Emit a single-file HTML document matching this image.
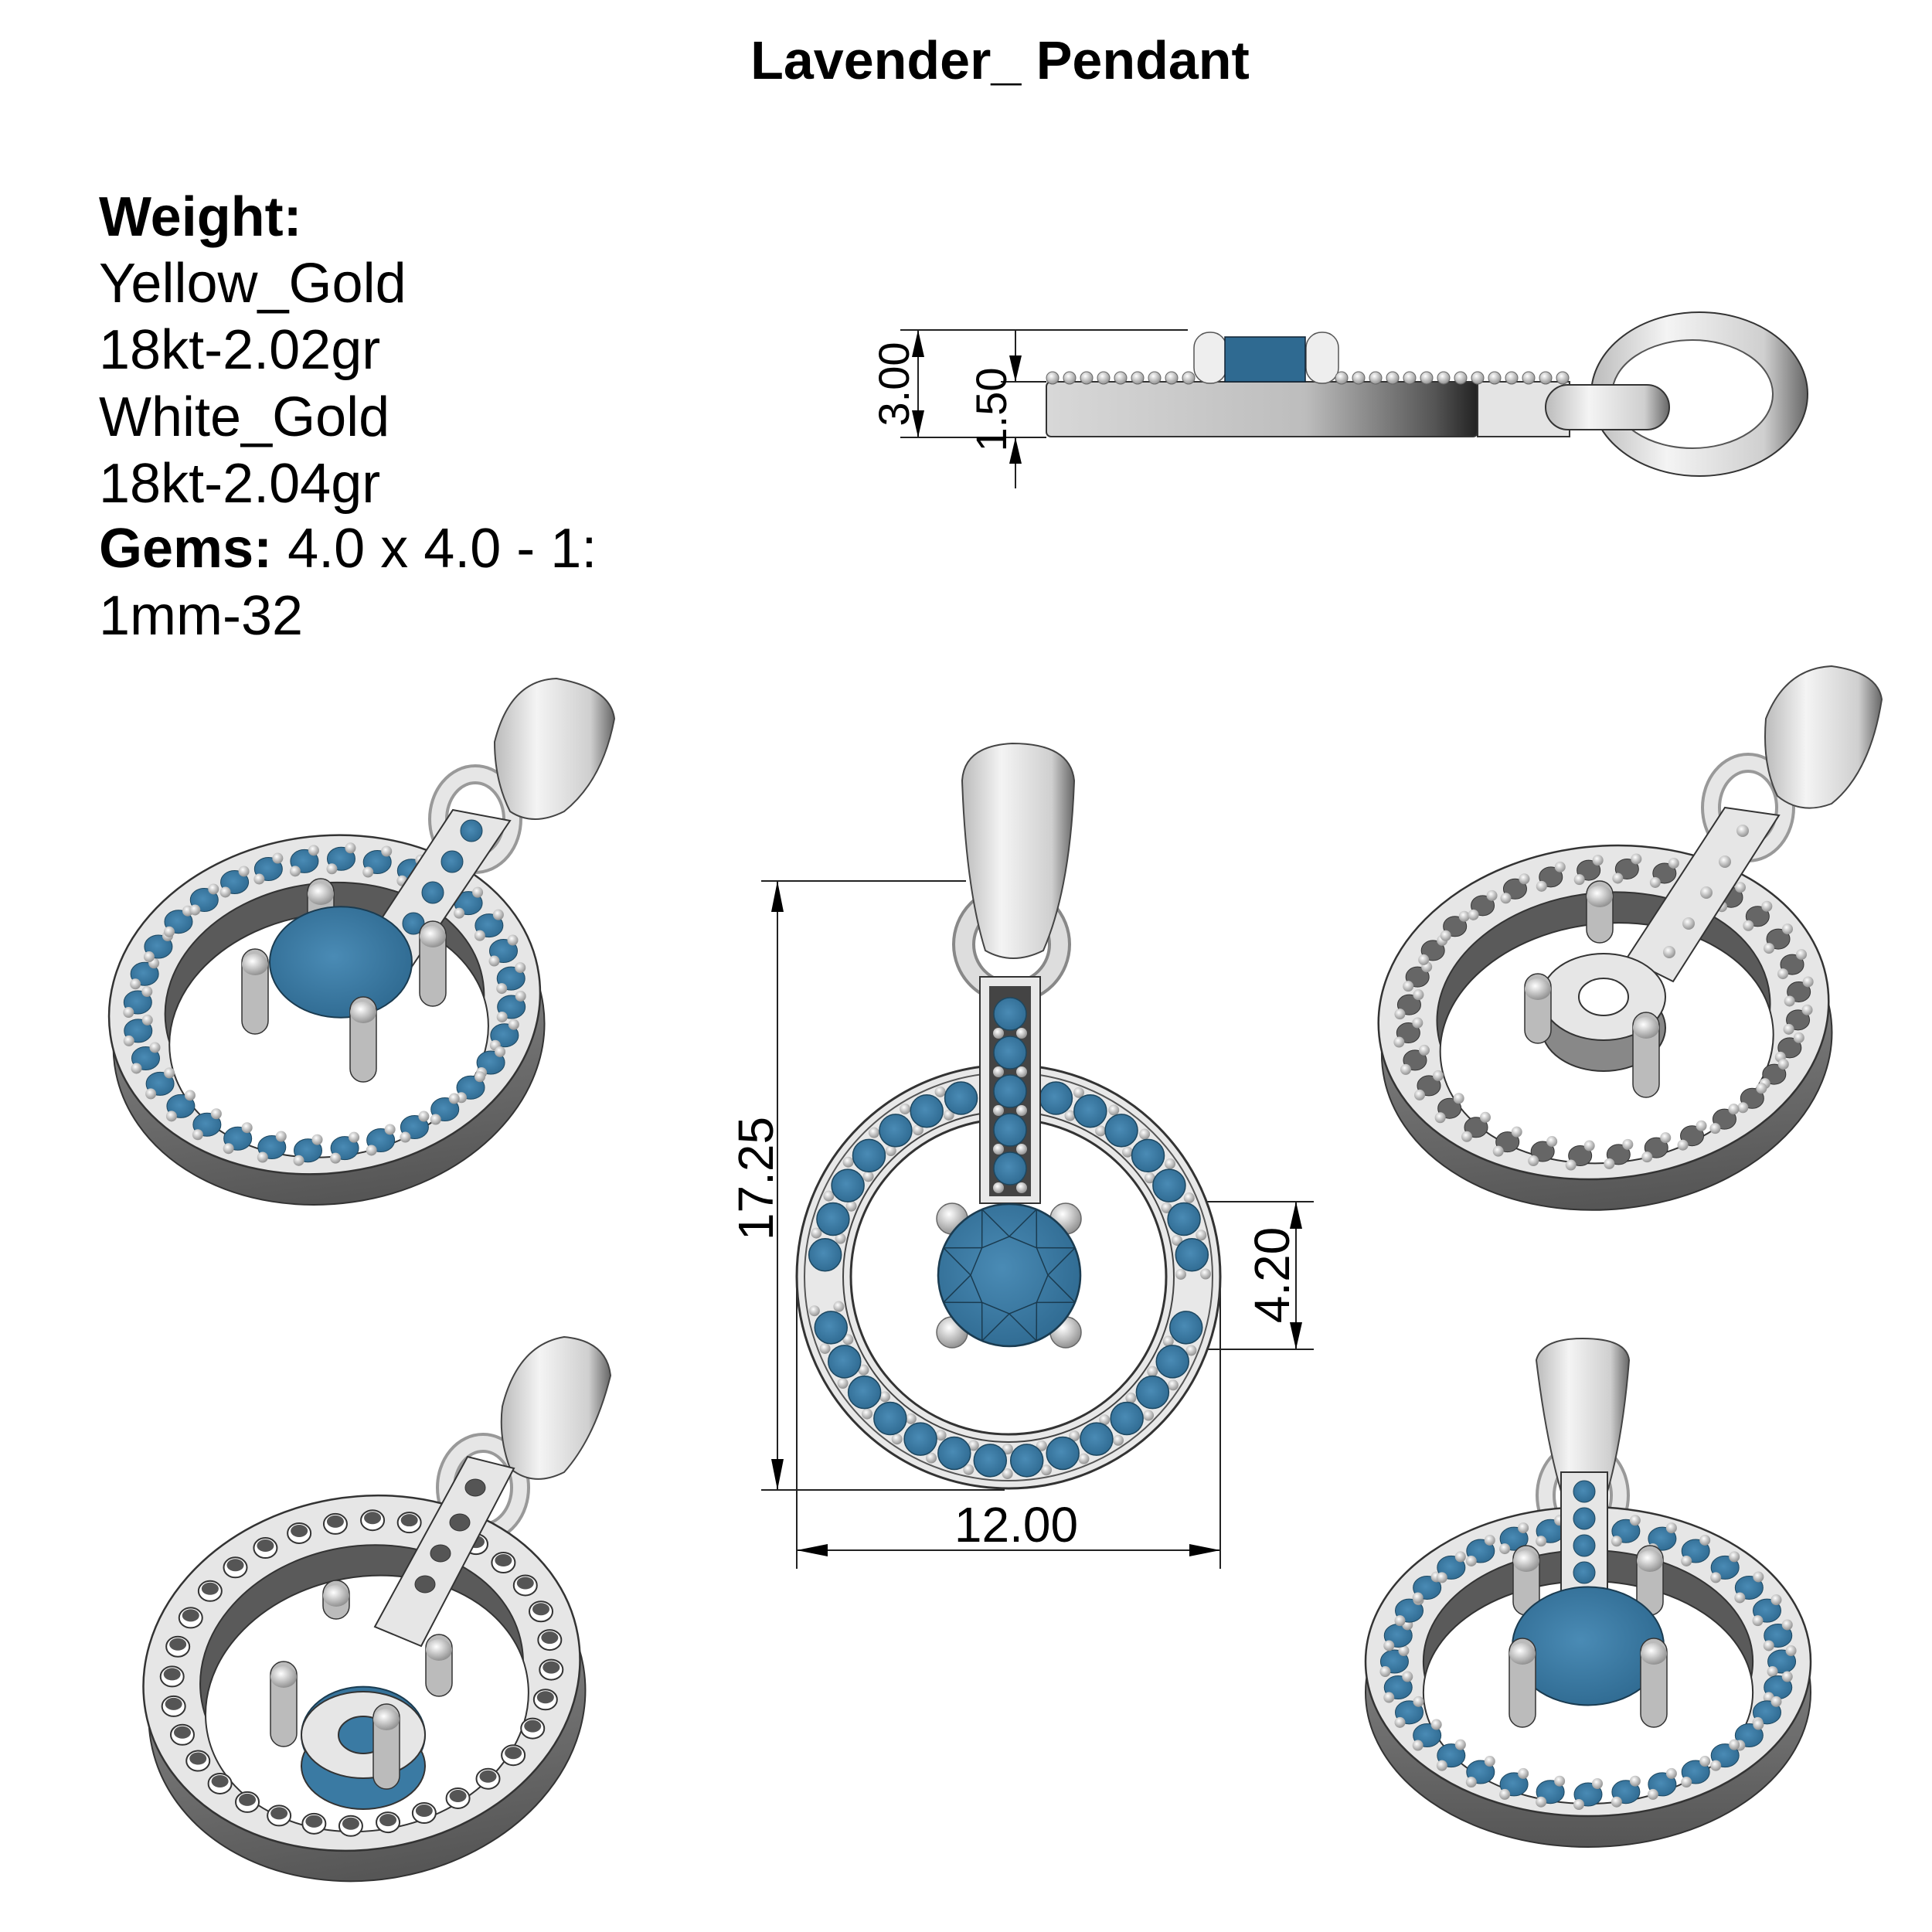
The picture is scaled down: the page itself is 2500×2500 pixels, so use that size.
<!DOCTYPE html>
<html><head><meta charset="utf-8"><style>
html,body{margin:0;padding:0;background:#fff;}
svg{display:block;}
text{font-family:"Liberation Sans",Arial,sans-serif;}
</style></head><body>
<svg id="s" width="2500" height="2500" viewBox="0 0 2500 2500" xmlns="http://www.w3.org/2000/svg">
<defs>
<linearGradient id="band" x1="0" x2="1" y1="0" y2="0"><stop offset="0" stop-color="#d8d8d8"/><stop offset="0.6" stop-color="#bdbdbd"/><stop offset="0.9" stop-color="#555"/><stop offset="1" stop-color="#222"/></linearGradient>
<linearGradient id="bandv" x1="0" x2="0" y1="0" y2="1"><stop offset="0" stop-color="#999"/><stop offset="1" stop-color="#555"/></linearGradient>
<linearGradient id="bail" x1="0" x2="1" y1="0" y2="0"><stop offset="0" stop-color="#bbb"/><stop offset="0.35" stop-color="#f4f4f4"/><stop offset="0.8" stop-color="#cfcfcf"/><stop offset="1" stop-color="#666"/></linearGradient>
<radialGradient id="pr" cx="0.4" cy="0.35" r="0.7"><stop offset="0" stop-color="#fff"/><stop offset="1" stop-color="#8a8a8a"/></radialGradient>
<radialGradient id="gem" cx="0.45" cy="0.45" r="0.6"><stop offset="0" stop-color="#4a8bb5"/><stop offset="1" stop-color="#2f6a91"/></radialGradient>
</defs>

<!-- Title and info -->
<text x="1294" y="102" font-size="70" font-weight="bold" text-anchor="middle">Lavender_ Pendant</text>
<g font-size="72">
<text x="128" y="305" font-weight="bold">Weight:</text>
<text x="128" y="391">Yellow_Gold</text>
<text x="128" y="477">18kt-2.02gr</text>
<text x="128" y="564">White_Gold</text>
<text x="128" y="650">18kt-2.04gr</text>
<text x="128" y="734"><tspan font-weight="bold">Gems:</tspan> 4.0 x 4.0 - 1:</text>
<text x="128" y="821">1mm-32</text>
</g>

<!-- SIDE VIEW -->
<g stroke="#222" stroke-width="2">
<line x1="1165" y1="427" x2="1537" y2="427"/>
<line x1="1165" y1="566" x2="1354" y2="566"/>
<line x1="1188" y1="427" x2="1188" y2="566"/>
<line x1="1295" y1="494" x2="1354" y2="494"/>
<line x1="1314" y1="427" x2="1314" y2="494"/>
<line x1="1314" y1="566" x2="1314" y2="632"/>
</g>
<g fill="#000">
<polygon points="1188,427 1180,462 1196,462"/><polygon points="1188,566 1180,531 1196,531"/>
<polygon points="1314,494 1306,460 1322,460"/><polygon points="1314,566 1306,600 1322,600"/>
</g>
<text transform="translate(1176,497) rotate(-90)" font-size="56" text-anchor="middle">3.00</text>
<text transform="translate(1302,530) rotate(-90)" font-size="56" text-anchor="middle">1.50</text>
<ellipse cx="2199" cy="510" rx="140" ry="106" fill="url(#bail)" stroke="#333" stroke-width="2"/>
<ellipse cx="2190" cy="510" rx="104" ry="70" fill="#fff" stroke="#555" stroke-width="2"/>
<rect x="1354" y="494" width="558" height="71" rx="6" fill="url(#band)" stroke="#333" stroke-width="2"/>
<rect x="1912" y="494" width="119" height="71" fill="#e4e4e4" stroke="#333" stroke-width="2"/>
<rect x="2000" y="498" width="160" height="58" rx="29" fill="url(#bail)" stroke="#333" stroke-width="2"/>
<rect x="1545" y="430" width="42" height="66" rx="20" fill="#eee" stroke="#555" stroke-width="1.5"/>
<rect x="1690" y="430" width="42" height="66" rx="20" fill="#eee" stroke="#555" stroke-width="1.5"/>
<rect x="1585" y="436" width="104" height="58" fill="#2f6a91" stroke="#123" stroke-width="1.5"/>
<g id="sidebeads"></g>

<!-- CENTER FRONT VIEW dims -->
<g stroke="#222" stroke-width="2">
<line x1="985" y1="1140" x2="1250" y2="1140"/>
<line x1="985" y1="1928" x2="1300" y2="1928"/>
<line x1="1006" y1="1140" x2="1006" y2="1928"/>
<line x1="1031" y1="1660" x2="1031" y2="2030"/>
<line x1="1579" y1="1660" x2="1579" y2="2030"/>
<line x1="1031" y1="2006" x2="1579" y2="2006"/>
<line x1="1404" y1="1555" x2="1700" y2="1555"/>
<line x1="1404" y1="1746" x2="1700" y2="1746"/>
<line x1="1677" y1="1555" x2="1677" y2="1746"/>
</g>
<g fill="#000">
<polygon points="1006,1140 998,1180 1014,1180"/><polygon points="1006,1928 998,1888 1014,1888"/>
<polygon points="1031,2006 1071,1998 1071,2014"/><polygon points="1579,2006 1539,1998 1539,2014"/>
<polygon points="1677,1555 1669,1590 1685,1590"/><polygon points="1677,1746 1669,1711 1685,1711"/>
</g>
<text transform="translate(1000,1525) rotate(-90)" font-size="64" text-anchor="middle">17.25</text>
<text x="1315" y="1995" font-size="64" text-anchor="middle">12.00</text>
<text transform="translate(1668,1650) rotate(-90)" font-size="64" text-anchor="middle">4.20</text>

<g id="front"></g>
<g id="iso"></g>
</svg>
<script>
var NS="http://www.w3.org/2000/svg";
function el(parent,tag,attrs){var e=document.createElementNS(NS,tag);for(var k in attrs)e.setAttribute(k,attrs[k]);parent.appendChild(e);return e;}
var sb=document.getElementById('sidebeads');
for(var x=1362;x<2025;x+=22){if(x>1540&&x<1735)continue;el(sb,'ellipse',{cx:x,cy:489,rx:8,ry:8,fill:'url(#pr)',stroke:'#666','stroke-width':1});}

// FRONT VIEW
var f=document.getElementById('front');
var cx=1305,cy=1652;
// bail
el(f,'circle',{cx:1309,cy:1222,r:62,fill:'none',stroke:'#888','stroke-width':30});
el(f,'circle',{cx:1309,cy:1222,r:62,fill:'none',stroke:'#ddd','stroke-width':22});
el(f,'path',{d:'M1245,1010 Q1248,965 1310,962 Q1385,962 1390,1010 Q1385,1150 1350,1230 Q1310,1250 1275,1230 Q1250,1150 1245,1010Z',fill:'url(#bail)',stroke:'#444','stroke-width':2});
el(f,'circle',{cx:cx,cy:cy,r:274,fill:'#e8e8e8',stroke:'#333','stroke-width':3});
el(f,'circle',{cx:cx,cy:cy,r:264,fill:'none',stroke:'#555','stroke-width':2});
el(f,'circle',{cx:cx,cy:cy,r:214,fill:'#e8e8e8',stroke:'#444','stroke-width':2});
el(f,'circle',{cx:cx,cy:cy,r:204,fill:'#fff',stroke:'#333','stroke-width':3});
// ring stones
for(var i=0;i<30;i++){var a=-Math.PI/2+ (i+0.5)*2*Math.PI/30+0.0; if(Math.abs(Math.cos(a+Math.PI/2))<0.001)continue;
 var ang=-Math.PI/2+0.26+i*(2*Math.PI-0.52)/29;
 var x=cx+239*Math.cos(ang),y=cy+239*Math.sin(ang);
 el(f,'circle',{cx:x,cy:y,r:21,fill:'url(#gem)',stroke:'#1d4760','stroke-width':1.5});
 var ang2=ang+Math.PI/30;
 if(i<29){el(f,'circle',{cx:cx+223*Math.cos(ang2),cy:cy+223*Math.sin(ang2),r:7,fill:'url(#pr)'});el(f,'circle',{cx:cx+255*Math.cos(ang2),cy:cy+255*Math.sin(ang2),r:7,fill:'url(#pr)'});}
}
// bar
el(f,'rect',{x:1268,y:1264,width:78,height:293,fill:'#e8e8e8',stroke:'#333','stroke-width':2});
el(f,'rect',{x:1280,y:1276,width:54,height:272,fill:'#444'});
for(var j=0;j<5;j++){var y=1312+j*50;el(f,'circle',{cx:1307,cy:y,r:21,fill:'url(#gem)',stroke:'#1d4760','stroke-width':1.5});
 el(f,'circle',{cx:1292,cy:y+25,r:7,fill:'url(#pr)'});el(f,'circle',{cx:1322,cy:y+25,r:7,fill:'url(#pr)'});}
// prongs and stone
[[1232,1577],[1379,1577],[1232,1724],[1379,1724]].forEach(function(p){el(f,'circle',{cx:p[0],cy:p[1],r:20,fill:'url(#pr)',stroke:'#666','stroke-width':1.5});});
el(f,'circle',{cx:1306,cy:1650,r:92,fill:'url(#gem)',stroke:'#1a3b50','stroke-width':2.5});
var pts=[];for(var k=0;k<8;k++){var a=k*Math.PI/4-Math.PI/2;pts.push((1306+50*Math.cos(a))+','+(1650+50*Math.sin(a)));}
el(f,'polygon',{points:pts.join(' '),fill:'none',stroke:'#1a3b50','stroke-width':1.5});
for(var k=0;k<8;k++){var a=k*Math.PI/4-Math.PI/2,b=a+Math.PI/8;el(f,'line',{x1:1306+50*Math.cos(a),y1:1650+50*Math.sin(a),x2:1306+92*Math.cos(b),y2:1650+92*Math.sin(b),stroke:'#1a3b50','stroke-width':1.5});el(f,'line',{x1:1306+50*Math.cos(a+Math.PI/4),y1:1650+50*Math.sin(a+Math.PI/4),x2:1306+92*Math.cos(b),y2:1650+92*Math.sin(b),stroke:'#1a3b50','stroke-width':1.5});}

// ISO VIEWS
var g=document.getElementById('iso');
function iso(o){
 var G=el(g,'g',{});
 // bail
 el(G,'ellipse',{cx:o.jx,cy:o.jy,rx:48,ry:58,fill:'none',stroke:'#999','stroke-width':26});
 el(G,'ellipse',{cx:o.jx,cy:o.jy,rx:48,ry:58,fill:'none',stroke:'#e6e6e6','stroke-width':18});
 el(G,'path',{d:o.bail,fill:'url(#bail)',stroke:'#444','stroke-width':2});
 // band
 el(G,'ellipse',{cx:o.cx,cy:o.cy+o.t,rx:o.rx,ry:o.ry,fill:'url(#bandv)',stroke:'#333','stroke-width':2,transform:'rotate('+o.rot+' '+o.cx+' '+o.cy+')'});
 el(G,'ellipse',{cx:o.cx,cy:o.cy,rx:o.rx,ry:o.ry,fill:'#e6e6e6',stroke:'#333','stroke-width':2.5,transform:'rotate('+o.rot+' '+o.cx+' '+o.cy+')'});
 var irx=o.rx*0.74,iry=o.ry*0.72;
 el(G,'ellipse',{cx:o.cx,cy:o.cy,rx:irx,ry:iry,fill:'#5a5a5a',stroke:'#333','stroke-width':2,transform:'rotate('+o.rot+' '+o.cx+' '+o.cy+')'});
 el(G,'ellipse',{cx:o.cx,cy:o.cy+o.t,rx:irx,ry:iry,fill:'#fff',stroke:'#333','stroke-width':2,transform:'rotate('+o.rot+' '+o.cx+' '+o.cy+')'});
 var r=(o.rot)*Math.PI/180;
 for(var i=0;i<32;i++){var a=i*2*Math.PI/32;var lx=o.rx*0.87*Math.cos(a),ly=o.ry*0.86*Math.sin(a);
  var x=o.cx+lx*Math.cos(r)-ly*Math.sin(r),y=o.cy+lx*Math.sin(r)+ly*Math.cos(r);
  if(o.mode=='gem'){el(G,'ellipse',{cx:x,cy:y,rx:18,ry:15,fill:'url(#gem)',stroke:'#1d4760','stroke-width':1});el(G,'circle',{cx:x+12,cy:y-14,r:7,fill:'url(#pr)'});el(G,'circle',{cx:x-12,cy:y+13,r:7,fill:'url(#pr)'});}
  else if(o.mode=='hole'){el(G,'ellipse',{cx:x,cy:y,rx:15,ry:13,fill:'#fff',stroke:'#333','stroke-width':2});el(G,'ellipse',{cx:x,cy:y-3,rx:11,ry:8,fill:'#555'});}
  else {el(G,'ellipse',{cx:x,cy:y,rx:15,ry:13,fill:'#666',stroke:'#333','stroke-width':1});el(G,'circle',{cx:x+12,cy:y-13,r:7,fill:'url(#pr)'});el(G,'circle',{cx:x-12,cy:y+12,r:7,fill:'url(#pr)'});}
 }
 // bar
 el(G,'polygon',{points:o.bar,fill:'#e6e6e6',stroke:'#333','stroke-width':2});
 (o.barDots||[]).forEach(function(p){ if(o.mode=='gem')el(G,'circle',{cx:p[0],cy:p[1],r:14,fill:'url(#gem)',stroke:'#1d4760','stroke-width':1}); else if(o.mode=='hole')el(G,'ellipse',{cx:p[0],cy:p[1],rx:13,ry:11,fill:'#555',stroke:'#333'}); else el(G,'circle',{cx:p[0],cy:p[1],r:8,fill:'url(#pr)'});});
 // setting
 o.prongs.forEach(function(p){el(G,'rect',{x:p[0]-17,y:p[1]-20,width:34,height:p[2],rx:17,fill:'#bbb',stroke:'#333','stroke-width':1.5});el(G,'ellipse',{cx:p[0],cy:p[1],rx:17,ry:14,fill:'url(#pr)'});});
 if(o.stone)el(G,'ellipse',{cx:o.sx,cy:o.sy,rx:o.sr,ry:o.sr*0.78,fill:'url(#gem)',stroke:'#1a3b50','stroke-width':2});
 if(o.cup){el(G,'ellipse',{cx:o.sx,cy:o.sy+40,rx:o.sr,ry:o.sr*0.7,fill:o.cupc||'#888',stroke:'#333','stroke-width':2});el(G,'ellipse',{cx:o.sx,cy:o.sy,rx:o.sr,ry:o.sr*0.7,fill:'#e6e6e6',stroke:'#333','stroke-width':2});el(G,'ellipse',{cx:o.sx,cy:o.sy,rx:o.sr*0.4,ry:o.sr*0.3,fill:o.holec||'#555',stroke:'#333','stroke-width':2});}
 (o.prongs2||[]).forEach(function(p){el(G,'rect',{x:p[0]-17,y:p[1]-20,width:34,height:p[2],rx:17,fill:'#bbb',stroke:'#333','stroke-width':1.5});el(G,'ellipse',{cx:p[0],cy:p[1],rx:17,ry:14,fill:'url(#pr)'});});
}
// TL
iso({cx:420,cy:1300,rx:280,ry:218,rot:-8,t:40,mode:'gem',jx:615,jy:1060,
 bail:'M640,960 Q660,880 720,878 Q790,890 795,930 Q780,1010 730,1050 Q690,1070 660,1050 Q640,1010 640,960Z',
 bar:'586,1048 660,1062 520,1270 460,1240',barDots:[[610,1075],[585,1115],[560,1155],[535,1195],[510,1232]],
 prongs:[[415,1157,60],[560,1212,110]],stone:true,sx:441,sy:1245,sr:92,prongs2:[[330,1248,110],[470,1310,110]]});
// TR
iso({cx:2075,cy:1310,rx:292,ry:215,rot:-6,t:40,mode:'bead',jx:2262,jy:1045,
 bail:'M2285,930 Q2310,865 2370,862 Q2430,870 2435,905 Q2420,1000 2370,1040 Q2330,1055 2300,1030 Q2280,990 2285,930Z',
 bar:'2232,1045 2302,1055 2165,1270 2105,1240',barDots:[[2255,1075],[2232,1115],[2208,1155],[2185,1195],[2160,1232]],
 prongs:[[2070,1160,80]],cup:true,sx:2075,sy:1290,sr:80,cupc:'#888',holec:'#fff',prongs2:[[1990,1280,90],[2130,1330,110]]});
// BL
iso({cx:468,cy:2165,rx:284,ry:228,rot:-10,t:40,mode:'hole',jx:625,jy:1925,
 bail:'M650,1820 Q670,1740 730,1730 Q785,1735 790,1780 Q770,1860 730,1905 Q690,1925 660,1900 Q645,1860 650,1820Z',
 bar:'605,1885 665,1900 545,2130 485,2105',barDots:[[615,1925],[595,1970],[570,2010],[550,2050]],
 prongs:[[435,2065,50]],stone:true,sx:470,sy:2245,sr:80,cup:true,cupc:'#3a7aa3',holec:'#3a7aa3',prongs2:[[367,2170,110],[568,2135,80],[500,2225,110]]});
// BR
iso({cx:2055,cy:2150,rx:288,ry:200,rot:0,t:40,mode:'gem',jx:2048,jy:1935,
 bail:'M1988,1760 Q1995,1732 2048,1732 Q2105,1732 2108,1760 Q2100,1860 2080,1930 L2020,1930 Q2000,1860 1988,1760Z',
 bar:'2020,1905 2080,1905 2080,2090 2020,2090',barDots:[[2050,1930],[2050,1965],[2050,2000],[2050,2035],[2050,2070]],
 prongs:[[1975,2020,90],[2135,2020,90]],stone:true,sx:2055,sy:2130,sr:98,prongs2:[[1970,2140,115],[2140,2140,115]]});
</script>
</body></html>
